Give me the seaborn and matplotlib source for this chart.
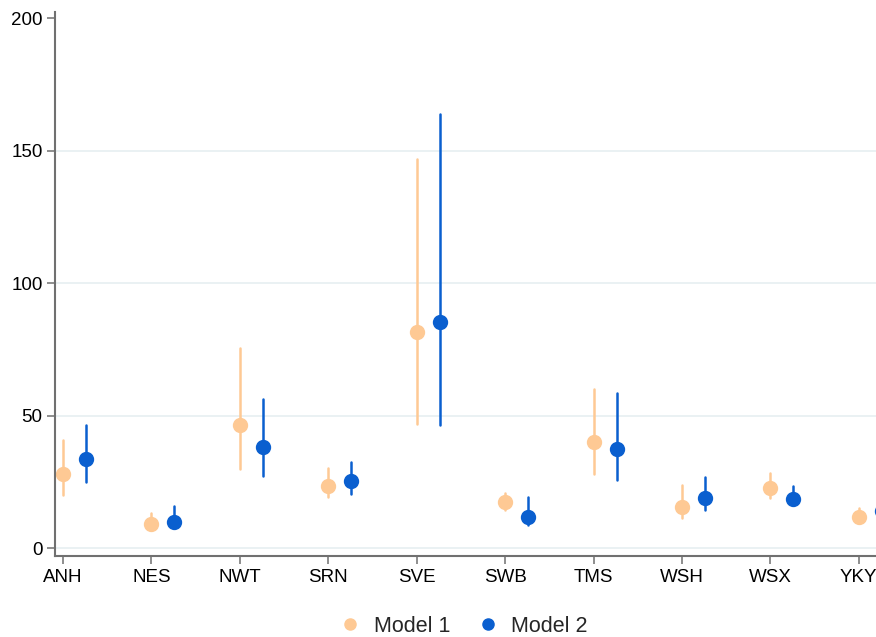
import numpy as np
import pandas as pd
import seaborn as sns
import matplotlib
matplotlib.use("Agg")
import matplotlib.pyplot as plt
from matplotlib.lines import Line2D

# Data
regions = ["ANH", "NES", "NWT", "SRN", "SVE", "SWB", "TMS", "WSH", "WSX", "YKY"]
models = ["Model 1", "Model 2"]

m1_est = [27.8, 9.3, 46.4, 23.4, 81.4, 17.4, 39.9, 15.5, 22.6, 11.8]
m1_lo = [20.0, 7.0, 29.8, 19.2, 46.8, 14.3, 27.8, 11.4, 19.0, 10.0]
m1_hi = [41.0, 13.3, 75.5, 30.2, 146.8, 20.8, 59.9, 24.0, 28.4, 15.0]

m2_est = [33.5, 9.7, 38.2, 25.3, 85.4, 11.7, 37.4, 19.0, 18.5, 14.0]
m2_lo = [25.0, 7.5, 27.3, 20.4, 46.4, 8.7, 25.9, 14.3, 16.9, 11.0]
m2_hi = [46.4, 15.8, 56.2, 32.5, 164.0, 19.2, 58.4, 26.9, 23.4, 18.0]

yticks = [0, 50, 100, 150, 200]
colors = ["#fec994", "#0a5fcf"]

# long table: lo / est / hi per region & model -> median = est, full range = CI
rows = []
for m, (est, lo, hi) in zip(models, [(m1_est, m1_lo, m1_hi), (m2_est, m2_lo, m2_hi)]):
    for r, e, l, h in zip(regions, est, lo, hi):
        for v in (l, e, h):
            rows.append({"region": r, "model": m, "value": v})
df = pd.DataFrame(rows)

# Plot
sns.set_style("white")
plt.rcParams["font.family"] = ["Liberation Sans", "DejaVu Sans"]

fig = plt.figure(figsize=(8.76, 6.37), dpi=100)
ax = fig.add_axes([0.0628, 0.127, 0.965, 0.854])

dodge = 0.26
sns.pointplot(data=df, x="region", y="value", hue="model", order=regions,
              hue_order=models, palette=colors, estimator="median",
              errorbar=("pi", 100), dodge=dodge, linestyle="none",
              markers="o", markersize=9, err_kws={"linewidth": 1.8},
              legend=False, ax=ax)

n = len(regions)
ax.set_xticks(np.arange(n) - dodge / 2, regions)
ax.set_xlim(-dodge / 2 - 0.09, -dodge / 2 + 9.47)
ax.set_ylim(-3, 202.3)
ax.set_yticks(yticks)
ax.set_xlabel("")
ax.set_ylabel("")

ax.yaxis.grid(True, color="#e4eef0", linewidth=1.1)
ax.get_ygridlines()[-1].set_visible(False)
ax.set_axisbelow(True)
for s in ["top", "right"]:
    ax.spines[s].set_visible(False)
for s in ["left", "bottom"]:
    ax.spines[s].set_color("#707070")
    ax.spines[s].set_linewidth(1.5)
ax.tick_params(axis="both", direction="out", length=6, width=1.1,
               color="#707070", labelsize=13.5, labelcolor="black", pad=3,
               left=True, bottom=True)

handles = [Line2D([], [], linestyle="none", marker="o", markersize=8,
                  color=c) for c in colors]
fig.legend(handles, models, loc="center", bbox_to_anchor=(0.528, 0.017),
           ncol=2, frameon=False, fontsize=15.5, handletextpad=0.5,
           columnspacing=1.15, handlelength=1.2)

plt.savefig("out.png", dpi=100)
